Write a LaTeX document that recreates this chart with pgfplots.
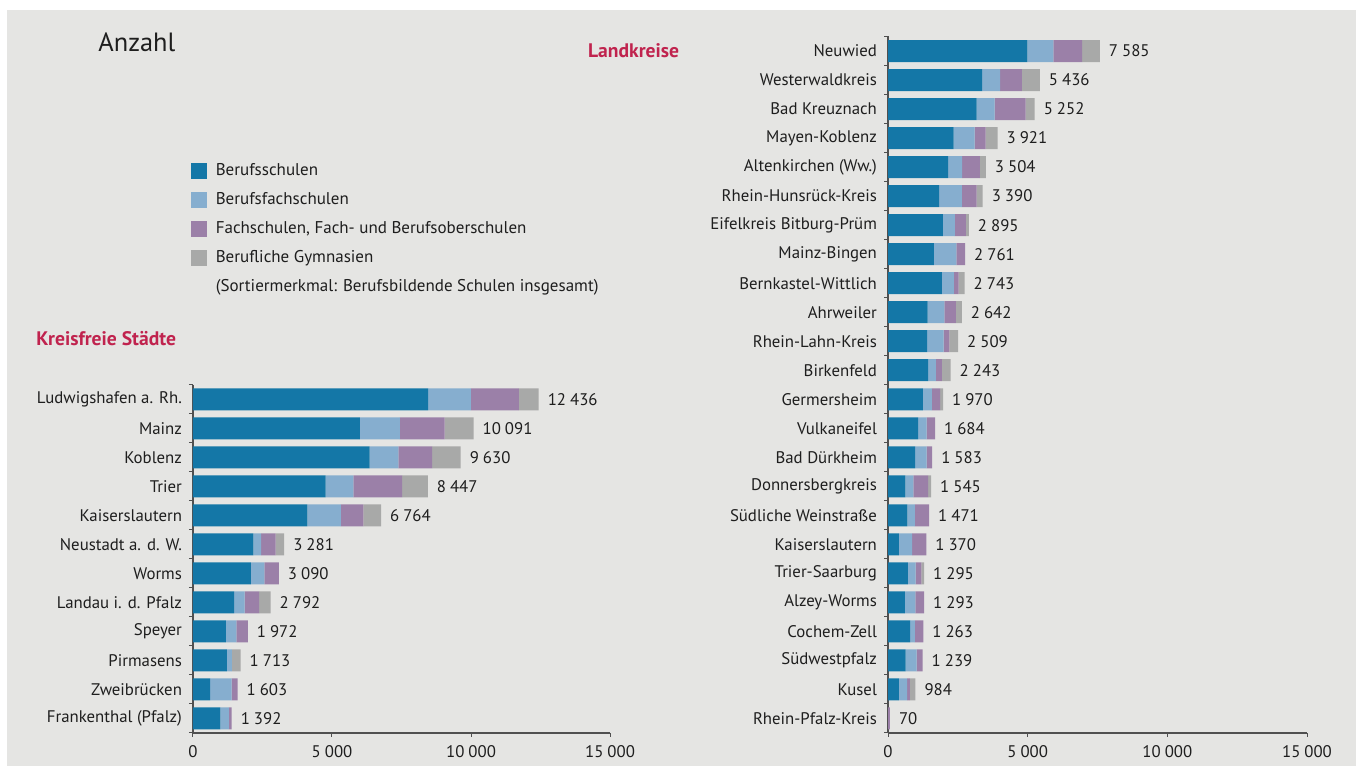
\documentclass[border=0pt]{standalone}
\usepackage{pgfplots}
\pgfplotsset{compat=1.18}
\usepackage{pgfplotstable}
\usepackage{fontspec}
\setmainfont{PT Sans}

\definecolor{bgray}{HTML}{E5E5E3}
\definecolor{cBS}{HTML}{1477A7}
\definecolor{cBFS}{HTML}{86AECF}
\definecolor{cFS}{HTML}{9B80A8}
\definecolor{cGym}{HTML}{A8A9A8}
\definecolor{crim}{HTML}{C0234E}
\definecolor{axgray}{HTML}{505050}
\definecolor{txt}{HTML}{1E1E1E}

% Kreisfreie Staedte, top to bottom
\pgfplotstableread{
y  bs   bfs  fs   gym  tot
0  8454 1543 1721 718  12436
1  6007 1433 1612 1039 10091
2  6357 1031 1211 1031 9630
3  4771 999  1749 928  8447
4  4117 1200 812  635  6764
5  2172 277  520  312  3281
6  2079 488  523  0    3090
7  1477 380  520  415  2792
8  1185 377  410  0    1972
9  1220 176  0    317  1713
10 620  772  211  0    1603
11 981  308  103  0    1392
}\staedte

% Landkreise, top to bottom
\pgfplotstableread{
y  bs   bfs  fs   gym  tot
0  4993 924  1029 639  7585
1  3371 641  783  641  5436
2  3175 645  1110 322  5252
3  2348 751  393  429  3921
4  2155 497  639  213  3504
5  1831 815  531  213  3390
6  1962 431  394  108  2895
7  1638 807  316  0    2761
8  1931 424  176  212  2743
9  1420 594  418  210  2642
10 1404 587  207  311  2509
11 1433 282  211  317  2243
12 1249 325  288  108  1970
13 1074 305  305  0    1684
14 972  407  204  0    1583
15 625  283  531  106  1545
16 696  270  505  0    1471
17 393  472  505  0    1370
18 711  275  206  103  1295
19 606  378  309  0    1293
20 794  167  302  0    1263
21 631  394  214  0    1239
22 387  298  100  199  984
23 0    0    70   0    70
}\landkreise

\pgfplotsset{
  rpframe/.style={
    scale only axis,
    anchor=south west,
    y dir=reverse,
    xmin=0, xmax=15000,
    font=\fontsize{8.4}{10}\selectfont,
    /pgf/number format/1000 sep={\kern0.24em},
    /pgf/number format/assume math mode=true,
  },
  rpbars/.style={
    rpframe,
    xbar stacked,
    bar width=11pt,
    xtick={0,5000,10000,15000},
    scaled x ticks=false,
    axis x line*=bottom,
    axis y line*=left,
    x axis line style={-, draw=axgray, line width=0.6pt},
    y axis line style={-, draw=axgray, line width=0.6pt},
    tick align=outside,
    major tick length=2pt,
    minor tick length=2pt,
    major y tick style={draw=none},
    minor y tick style={draw=axgray, line width=0.5pt},
    major x tick style={draw=axgray, line width=0.5pt},
    ytick=data,
    tick label style={text=txt},
    xticklabel style={yshift=-0.5pt},
    legend image code/.code={\fill[##1] (0pt,-4pt) rectangle (8pt,4pt);
      \path[draw=none, fill=none] (11.5pt,0pt) circle (0.1pt);},
  },
  % overlay that writes the totals right of the bars
  rptotals/.style={
    rpframe,
    hide axis,
  },
}

\begin{document}
\begin{tikzpicture}
\fill[white] (0pt,0pt) rectangle (678pt,384.5pt);
\fill[bgray] (3.5pt,1.5pt) rectangle (678pt,379.5pt);

\begin{axis}[rpbars,
  at={(96.5pt,18pt)},
  width=208.5pt, height=174pt,
  ymin=-0.5, ymax=11.5,
  minor ytick={-0.5,0.5,...,11.5},
  yticklabels={Ludwigshafen a. Rh., Mainz, Koblenz, Trier, Kaiserslautern,
    Neustadt a. d. W., Worms, Landau i. d. Pfalz, Speyer, Pirmasens,
    Zweibrücken, Frankenthal (Pfalz)},
  legend cell align=left,
  legend style={draw=none, fill=none, inner sep=0pt,
    at={(-0.0072,1.642)}, anchor=north west,
    row sep=4.9pt, text=txt, font=\fontsize{8.5}{10}\selectfont,
    nodes={inner sep=1pt, text height=6pt, text depth=1.5pt}},
]
\addplot[draw=none, fill=cBS] table[x=bs, y=y] {\staedte};
\addlegendentry{Berufsschulen}
\addplot[draw=none, fill=cBFS] table[x=bfs, y=y] {\staedte};
\addlegendentry{Berufsfachschulen}
\addplot[draw=none, fill=cFS] table[x=fs, y=y] {\staedte};
\addlegendentry{Fachschulen, Fach- und Berufsoberschulen}
\addplot[draw=none, fill=cGym] table[x=gym, y=y] {\staedte};
\addlegendentry{Berufliche Gymnasien}
\addlegendimage{legend image code/.code={\path[draw=none, fill=none] (0pt,0pt) circle (0.1pt) (11.5pt,0pt) circle (0.1pt);}}
\addlegendentry{(Sortiermerkmal: Berufsbildende Schulen insgesamt)}
\end{axis}

\begin{axis}[rptotals,
  at={(96.5pt,18pt)},
  width=208.5pt, height=174pt,
  ymin=-0.5, ymax=11.5,
]
\addplot[draw=none, mark=none, nodes near coords, point meta=explicit,
  every node near coord/.style={anchor=west, text=txt, xshift=1pt, font=\fontsize{8.4}{10}\selectfont}]
  table[x=tot, y=y, meta=tot] {\staedte};
\end{axis}

\begin{axis}[rpbars,
  at={(444pt,18pt)},
  width=209.5pt, height=348.25pt,
  ymin=-0.5, ymax=23.5,
  minor ytick={-0.5,0.5,...,23.5},
  yticklabels={Neuwied, Westerwaldkreis, Bad Kreuznach, Mayen-Koblenz,
    Altenkirchen (Ww.), Rhein-Hunsrück-Kreis, Eifelkreis Bitburg-Prüm,
    Mainz-Bingen, Bernkastel-Wittlich, Ahrweiler, Rhein-Lahn-Kreis,
    Birkenfeld, Germersheim, Vulkaneifel, Bad Dürkheim, Donnersbergkreis,
    Südliche Weinstraße, Kaiserslautern, Trier-Saarburg, Alzey-Worms,
    Cochem-Zell, Südwestpfalz, Kusel, Rhein-Pfalz-Kreis},
]
\addplot[draw=none, fill=cBS] table[x=bs, y=y] {\landkreise};
\addplot[draw=none, fill=cBFS] table[x=bfs, y=y] {\landkreise};
\addplot[draw=none, fill=cFS] table[x=fs, y=y] {\landkreise};
\addplot[draw=none, fill=cGym] table[x=gym, y=y] {\landkreise};
\end{axis}

\begin{axis}[rptotals,
  at={(444pt,18pt)},
  width=209.5pt, height=348.25pt,
  ymin=-0.5, ymax=23.5,
]
\addplot[draw=none, mark=none, nodes near coords, point meta=explicit,
  every node near coord/.style={anchor=west, text=txt, xshift=1pt, font=\fontsize{8.4}{10}\selectfont}]
  table[x=tot, y=y, meta=tot] {\landkreise};
\end{axis}

\node[anchor=west, inner sep=0pt, text=txt, font=\fontsize{13.2}{15}\selectfont] at (49pt,363.5pt) {Anzahl};
\node[inner sep=0pt, text=crim, font=\fontsize{9.8}{11}\selectfont\bfseries] at (316.8pt,359pt) {Landkreise};
\node[anchor=west, inner sep=0pt, text=crim, font=\fontsize{9.8}{11}\selectfont\bfseries] at (18pt,215pt) {Kreisfreie Städte};
\end{tikzpicture}
\end{document}
